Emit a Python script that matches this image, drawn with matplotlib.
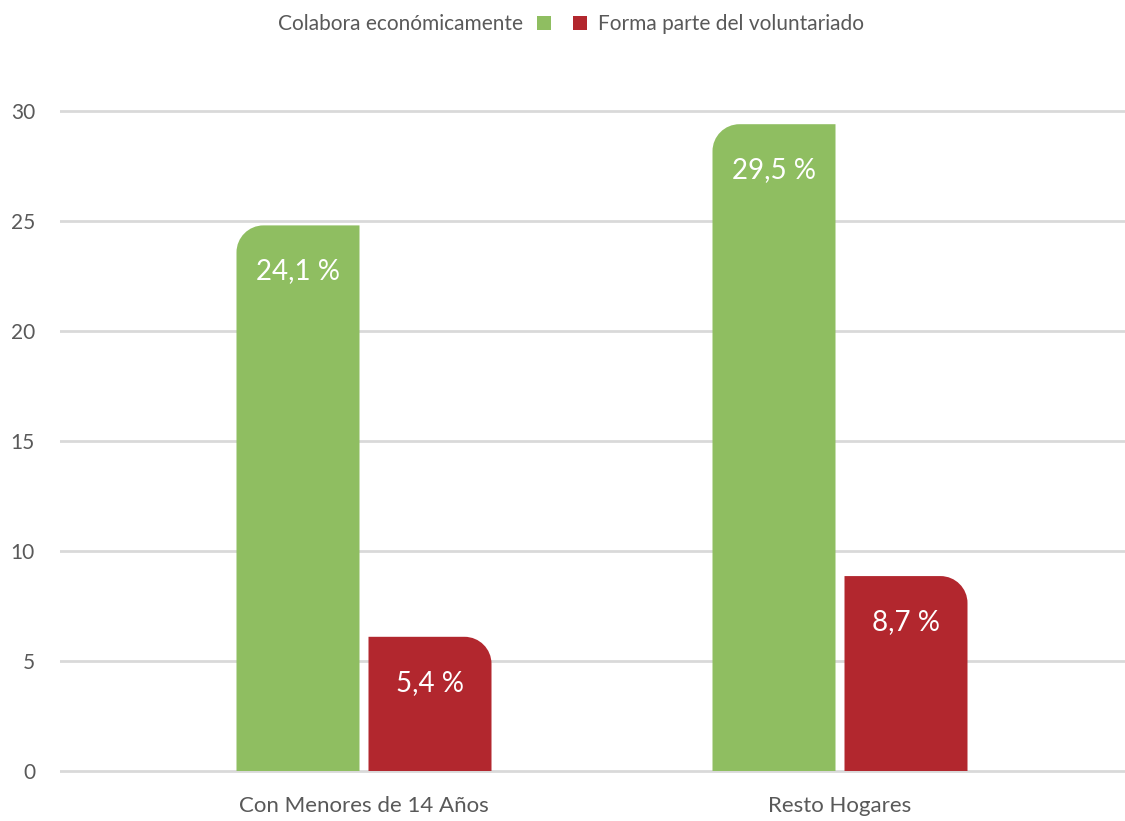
import matplotlib.pyplot as plt
import numpy as np
from matplotlib.path import Path
from matplotlib.patches import PathPatch, Rectangle

categories = ['Con Menores de 14 Años', 'Resto Hogares']
series_names = ['Colabora económicamente', 'Forma parte del voluntariado']
colabora = [24.8, 29.4]
voluntariado = [6.1, 8.86]
colabora_labels = ['24,1 %', '29,5 %']
voluntariado_labels = ['5,4 %', '8,7 %']
yticks = [0, 5, 10, 15, 20, 25, 30]

green = '#8fbe61'
red = '#b2272e'
grey = '#595959'

plt.rcParams['font.family'] = ['Lato', 'DejaVu Sans']

W, H = 1125, 821
fig = plt.figure(figsize=(W / 100, H / 100), dpi=100)

# axes placed in pixels: y=0 at 771px, 22px per unit
ymin, ymax = -0.2, 30.3
px_unit = 22.0
bot_px = 771 + (0 - ymin) * px_unit
top_px = 111 - (ymax - 30) * px_unit
ax = fig.add_axes([60 / W, (H - bot_px) / H, 1 - 60 / W, (bot_px - top_px) / H])

x = np.arange(len(categories))
xpx = 476.0
ax.set_xlim((60 - 364) / xpx, (1125 - 364) / xpx)
ax.set_ylim(ymin, ymax)

bw = 123 / xpx
off = 66 / xpx
rx = 27 / xpx
ry = 27 / px_unit
k = 0.5523


def rounded_bar(rect, side, color):
    x0 = rect.get_x()
    x1 = x0 + rect.get_width()
    h = rect.get_height()
    if side == 'left':
        verts = [(x0, 0), (x1, 0), (x1, h), (x0 + rx, h),
                 (x0 + rx * (1 - k), h), (x0, h - ry * (1 - k)), (x0, h - ry),
                 (x0, 0)]
        codes = [Path.MOVETO, Path.LINETO, Path.LINETO, Path.LINETO,
                 Path.CURVE4, Path.CURVE4, Path.CURVE4, Path.CLOSEPOLY]
    else:
        verts = [(x0, 0), (x1, 0), (x1, h - ry),
                 (x1, h - ry * (1 - k)), (x1 - rx * (1 - k), h), (x1 - rx, h),
                 (x0, h), (x0, 0)]
        codes = [Path.MOVETO, Path.LINETO, Path.LINETO,
                 Path.CURVE4, Path.CURVE4, Path.CURVE4,
                 Path.LINETO, Path.CLOSEPOLY]
    ax.add_patch(PathPatch(Path(verts, codes), facecolor=color,
                           edgecolor='none', zorder=3))


bars1 = ax.bar(x - off, colabora, bw, visible=False)
bars2 = ax.bar(x + off, voluntariado, bw, visible=False)
for r in bars1:
    rounded_bar(r, 'left', green)
for r in bars2:
    rounded_bar(r, 'right', red)

for bars, labels in [(bars1, colabora_labels), (bars2, voluntariado_labels)]:
    for r, lab in zip(bars, labels):
        ax.text(r.get_x() + r.get_width() / 2, r.get_height() - 46 / px_unit, lab,
                ha='center', va='center', color='white', fontsize=20, zorder=4)

ax.set_yticks(yticks)
ax.set_xticks(x)
ax.set_xticklabels(categories)
ax.tick_params(axis='y', length=0, pad=18, labelsize=15, labelcolor=grey)
ax.tick_params(axis='x', length=0, pad=15, labelsize=16, labelcolor=grey)
ax.grid(axis='y', color='#d9d9d9', linewidth=2)
ax.set_axisbelow(True)
for s in ax.spines.values():
    s.set_visible(False)

# legend: text then marker, marker then text
ly = 1 - 24 / H
fig.text(523 / W, ly, series_names[0], ha='right', va='center', fontsize=15, color=grey)
fig.patches.append(Rectangle((537 / W, 1 - 30 / H), 14 / W, 14 / H,
                             transform=fig.transFigure, facecolor=green, edgecolor='none'))
fig.patches.append(Rectangle((573 / W, 1 - 30 / H), 14 / W, 14 / H,
                             transform=fig.transFigure, facecolor=red, edgecolor='none'))
fig.text(598 / W, ly, series_names[1], ha='left', va='center', fontsize=15, color=grey)

plt.savefig('out.png', dpi=100)
plt.close()
